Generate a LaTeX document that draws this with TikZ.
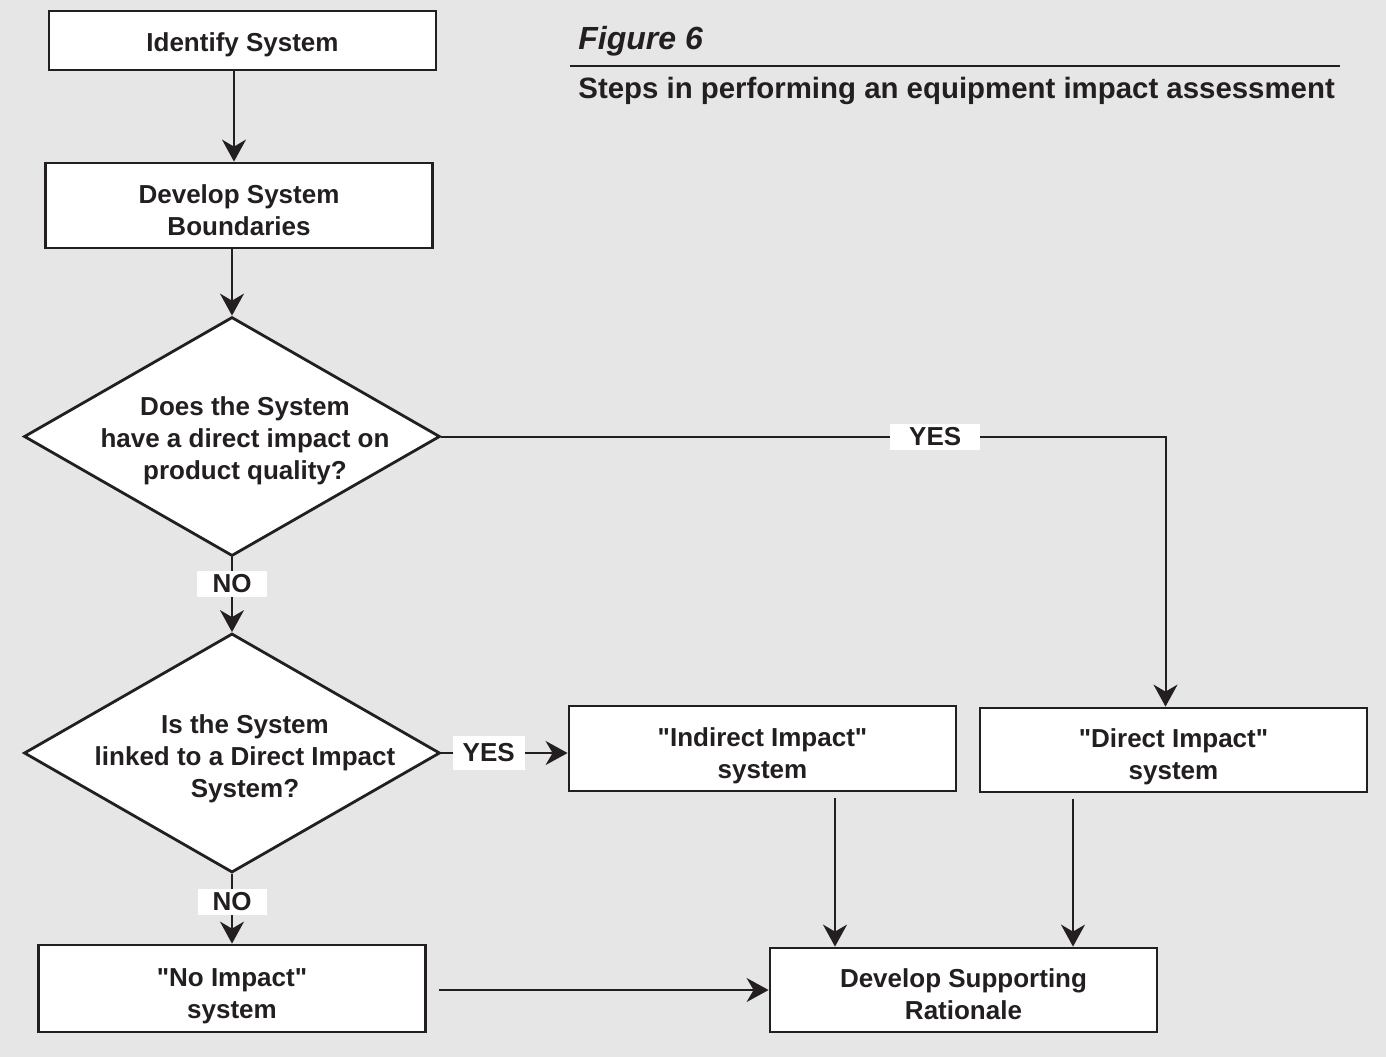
\documentclass[tikz,border=0pt]{standalone}
\usepackage{fontspec}
\setmainfont{Liberation Sans}[Ligatures=TeXOff]
\usetikzlibrary{shapes.geometric,arrows.meta,calc}
\definecolor{bg}{HTML}{E6E6E6}
\definecolor{ink}{HTML}{231F20}
\newcommand\dq{\symbol{34}}
\newcommand\bt[2][-3.7pt]{\raisebox{#1}[\height][\depth]{\begin{tabular}{@{}c@{}}#2\end{tabular}}}
\begin{document}
\begin{tikzpicture}[x=0.5pt,y=-0.5pt,
  txt/.style={font=\fontsize{13}{16}\selectfont\bfseries,text=ink},
  box/.style={txt,draw=ink,fill=white,line width=1.4pt,minimum width=193.5pt,minimum height=42.5pt,inner sep=0pt,align=center},
  dia/.style={diamond,draw=ink,fill=white,line width=1.4pt,minimum width=208pt,minimum height=119.5pt,inner sep=0pt},
  dtext/.style={txt,align=center,inner sep=0pt},
  lab/.style={txt,fill=white,inner sep=0pt,minimum height=13pt},
  arr/.style={draw=ink,line width=1pt,-{Stealth[length=11pt,width=12pt,inset=3.5pt]}},
  ln/.style={draw=ink,line width=1pt}]
\fill[bg] (0,0) rectangle (1386,1057);
\useasboundingbox (0,0) rectangle (1386,1057);

% title
\node[anchor=west,inner sep=0pt,text=ink,font=\fontsize{16}{19}\selectfont\bfseries\itshape] (fig) at (578,41) {Figure 6};
\draw[ink,line width=0.8pt] (570,66) -- (1340,66);
\node[anchor=west,inner sep=0pt,text=ink,font=\fontsize{14.7}{17}\selectfont\bfseries] (sub) at (578,91) {Steps in performing an equipment impact assessment};

% nodes
\node[box,minimum height=29.5pt] (n1) at (242.5,40.5) {\bt[-2.4pt]{Identify System}};
\node[box] (n2) at (239,205.5) {\bt{Develop System\\Boundaries}};
\node[dia] (d1) at (232,436.5) {};
\node[dtext,xshift=6.5pt,yshift=-2pt] (t1) at (d1.center) {Does the System\\have a direct impact on\\product quality?};
\node[dia] (d2) at (232,753) {};
\node[dtext,xshift=6.5pt,yshift=-3pt] (t2) at (d2.center) {Is the System\\linked to a Direct Impact\\System?};
\node[box,minimum height=43.5pt] (n3) at (232,988.5) {\bt{\dq No Impact\dq\\system}};
\node[box] (n4) at (762.5,748.5) {\bt{\dq Indirect Impact\dq\\system}};
\node[box,minimum height=42pt] (n5) at (1173.5,750) {\bt{\dq Direct Impact\dq\\system}};
\node[box,minimum height=42pt] (n6) at (963.5,990) {\bt{Develop Supporting\\Rationale}};

% connectors
\draw[arr] (n1.south -| 234,0) -- (n2.north -| 234,0);
\draw[arr] (n2.south -| d1.north) -- (d1.north);
\draw[arr] (d1.south) -- node[lab,pos=0.35,minimum width=35pt] (no1) {NO} (d2.north);
\draw[arr] (d2.south) -- node[lab,pos=0.4,minimum width=34.5pt] (no2) {NO} (n3.north);
\draw[arr] (d2.east) -- node[lab,pos=0.375,minimum width=36pt,minimum height=17pt] (yes2) {YES} (d2.east -| n4.west);
\coordinate (c1) at ($(n5.north)+(-8,0)$);
\draw[arr] (d1.east) -| node[lab,pos=0.341,minimum width=45pt] (yes1) {YES} (c1);
\draw[arr,shorten <=3pt] (n4.south -| 835,0) -- (n6.north -| 835,0);
\draw[arr,shorten <=3pt] (n5.south -| 1073,0) -- (n6.north -| 1073,0);
\draw[arr,shorten <=6pt] (n3.east |- n6.west) -- (n6.west);
\end{tikzpicture}
\end{document}
